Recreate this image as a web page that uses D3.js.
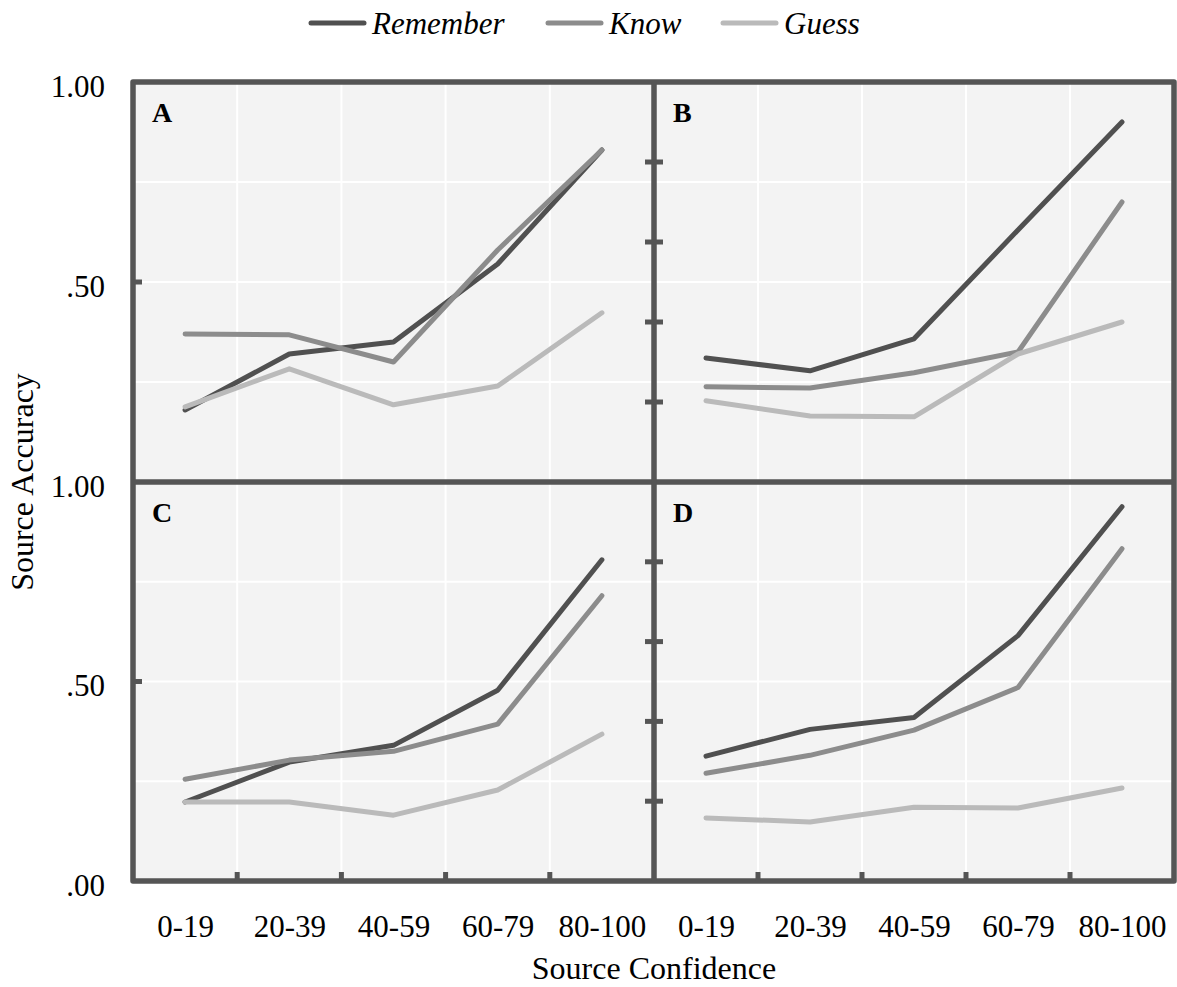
<!DOCTYPE html>
<html>
<head>
<meta charset="utf-8">
<script src="https://cdn.jsdelivr.net/npm/d3@7"></script>
<style>
  html, body { margin: 0; padding: 0; background: #ffffff; }
  svg { display: block; }
  text { font-family: "Liberation Serif", "Times New Roman", serif; fill: #000; }
</style>
</head>
<body>
<svg id="chart" width="1177" height="987"></svg>
<script>
// ---------- data ----------
const categories = ["0-19", "20-39", "40-59", "60-79", "80-100"];
const seriesNames = ["Remember", "Know", "Guess"];
const seriesColors = ["#505050", "#8c8c8c", "#bababa"];

const panelA_remember = [0.18, 0.32, 0.35, 0.545, 0.83];
const panelA_know     = [0.37, 0.368, 0.30, 0.58, 0.83];
const panelA_guess    = [0.188, 0.283, 0.193, 0.24, 0.423];

const panelB_remember = [0.31, 0.278, 0.358, 0.63, 0.90];
const panelB_know     = [0.238, 0.235, 0.273, 0.325, 0.70];
const panelB_guess    = [0.203, 0.165, 0.163, 0.32, 0.40];

const panelC_remember = [0.198, 0.298, 0.34, 0.478, 0.805];
const panelC_know     = [0.255, 0.303, 0.325, 0.393, 0.715];
const panelC_guess    = [0.198, 0.198, 0.165, 0.228, 0.368];

const panelD_remember = [0.313, 0.38, 0.41, 0.615, 0.938];
const panelD_know     = [0.27, 0.315, 0.378, 0.485, 0.833];
const panelD_guess    = [0.158, 0.148, 0.185, 0.183, 0.233];

const panelLetters = ["A", "B", "C", "D"];
const gridValues = [0.25, 0.5, 0.75];
const leftTickValues = [0.5];
const innerTickValues = [0.2, 0.4, 0.6, 0.8];
const yLabelValuesTop = [1.0, 0.5];
const yLabelValuesBottom = [1.0, 0.5, 0.0];
const xTitle = "Source Confidence";
const yTitle = "Source Accuracy";

// ---------- layout ----------
const svg = d3.select("#chart");
const L = 133, M = 654, R = 1174, T = 82, H = 482, B = 881;
const frameColor = "#555555";

const panels = [
  { letter: panelLetters[0], x: [L, M], y: [H, T], data: [panelA_remember, panelA_know, panelA_guess], col: 0, row: 0 },
  { letter: panelLetters[1], x: [M, R], y: [H, T], data: [panelB_remember, panelB_know, panelB_guess], col: 1, row: 0 },
  { letter: panelLetters[2], x: [L, M], y: [B, H], data: [panelC_remember, panelC_know, panelC_guess], col: 0, row: 1 },
  { letter: panelLetters[3], x: [M, R], y: [B, H], data: [panelD_remember, panelD_know, panelD_guess], col: 1, row: 1 }
];

panels.forEach(p => {
  p.xBand = d3.scaleBand().domain(categories).range(p.x).padding(0);
  p.xPt = d3.scalePoint().domain(categories).range(p.x).padding(0.5);
  p.yS = d3.scaleLinear().domain([0, 1]).range(p.y);
});

// backgrounds
panels.forEach(p => {
  svg.append("rect")
    .attr("x", p.x[0]).attr("y", p.y[1])
    .attr("width", p.x[1] - p.x[0]).attr("height", p.y[0] - p.y[1])
    .attr("fill", "#f3f3f3");
});

// gridlines
panels.forEach(p => {
  const g = svg.append("g");
  g.selectAll("line.h").data(gridValues).enter().append("line")
    .attr("x1", p.x[0]).attr("x2", p.x[1])
    .attr("y1", d => p.yS(d)).attr("y2", d => p.yS(d))
    .attr("stroke", "#ffffff").attr("stroke-width", 2);
  g.selectAll("line.v").data(categories.slice(1)).enter().append("line")
    .attr("x1", d => p.xBand(d)).attr("x2", d => p.xBand(d))
    .attr("y1", p.y[0]).attr("y2", p.y[1])
    .attr("stroke", "#ffffff").attr("stroke-width", 2);
});

// data lines
panels.forEach(p => {
  const line = d3.line().x((d, i) => p.xPt(categories[i])).y(d => p.yS(d));
  p.data.forEach((vals, si) => {
    svg.append("path")
      .datum(vals)
      .attr("d", line)
      .attr("fill", "none")
      .attr("stroke", seriesColors[si])
      .attr("stroke-width", 5)
      .attr("stroke-linejoin", "round")
      .attr("stroke-linecap", "round");
  });
});

// frame
svg.append("rect")
  .attr("x", L).attr("y", T).attr("width", R - L).attr("height", B - T)
  .attr("fill", "none").attr("stroke", frameColor).attr("stroke-width", 5.5)
  .attr("stroke-linejoin", "round");
svg.append("line").attr("x1", L).attr("x2", R).attr("y1", H).attr("y2", H)
  .attr("stroke", frameColor).attr("stroke-width", 5.5);
svg.append("line").attr("x1", M).attr("x2", M).attr("y1", T).attr("y2", B)
  .attr("stroke", frameColor).attr("stroke-width", 5.5);

// ticks
panels.forEach(p => {
  if (p.row === 1) {
    svg.selectAll(null).data(categories.slice(1)).enter().append("line")
      .attr("x1", d => p.xBand(d)).attr("x2", d => p.xBand(d))
      .attr("y1", B).attr("y2", B - 9)
      .attr("stroke", frameColor).attr("stroke-width", 5);
  }
  if (p.col === 0) {
    svg.selectAll(null).data(leftTickValues).enter().append("line")
      .attr("x1", L).attr("x2", L + 9)
      .attr("y1", d => p.yS(d)).attr("y2", d => p.yS(d))
      .attr("stroke", frameColor).attr("stroke-width", 5);
  } else {
    svg.selectAll(null).data(innerTickValues).enter().append("line")
      .attr("x1", M - 9).attr("x2", M + 9)
      .attr("y1", d => p.yS(d)).attr("y2", d => p.yS(d))
      .attr("stroke", frameColor).attr("stroke-width", 5);
  }
});

// x tick labels (axis)
panels.filter(p => p.row === 1).forEach(p => {
  const ax = d3.axisBottom(p.xPt).tickSize(0).tickPadding(0);
  const g = svg.append("g").attr("transform", `translate(0,${B})`).call(ax);
  g.select(".domain").remove();
  g.selectAll("text")
    .attr("y", 56).attr("dy", null)
    .style("font-family", '"Liberation Serif", serif')
    .style("font-size", "31px").attr("fill", "#000");
});

// y tick labels (axis)
const fmt = d => d === 1 ? "1.00" : d3.format(".2f")(d).replace(/^0/, "");
panels.filter(p => p.col === 0).forEach(p => {
  const vals = p.row === 0 ? yLabelValuesTop : yLabelValuesBottom;
  const ax = d3.axisLeft(p.yS).tickValues(vals).tickFormat(fmt).tickSize(0).tickPadding(0);
  const g = svg.append("g").attr("transform", `translate(105,0)`).call(ax);
  g.select(".domain").remove();
  g.selectAll("text")
    .attr("x", 0).attr("dy", "14px").attr("y", 0)
    .style("font-family", '"Liberation Serif", serif')
    .style("font-size", "31px").attr("fill", "#000");
});

// panel letters
panels.forEach(p => {
  svg.append("text")
    .attr("x", p.x[0] + 19).attr("y", p.y[1] + 40)
    .attr("font-size", 28).attr("font-weight", "bold")
    .text(p.letter);
});

// axis titles
svg.append("text")
  .attr("x", M).attr("y", 979)
  .attr("text-anchor", "middle").attr("font-size", 32)
  .text(xTitle);
svg.append("text")
  .attr("transform", `translate(33,${H}) rotate(-90)`)
  .attr("text-anchor", "middle").attr("font-size", 32)
  .text(yTitle);

// legend
const legendX = [311, 548, 723];
const leg = svg.append("g");
seriesNames.forEach((name, i) => {
  leg.append("line")
    .attr("x1", legendX[i]).attr("x2", legendX[i] + 53)
    .attr("y1", 23).attr("y2", 23)
    .attr("stroke", seriesColors[i]).attr("stroke-width", 5)
    .attr("stroke-linecap", "round");
  leg.append("text")
    .attr("x", legendX[i] + 61).attr("y", 34)
    .attr("font-size", 31).attr("font-style", "italic")
    .text(name);
});
</script>
</body>
</html>
